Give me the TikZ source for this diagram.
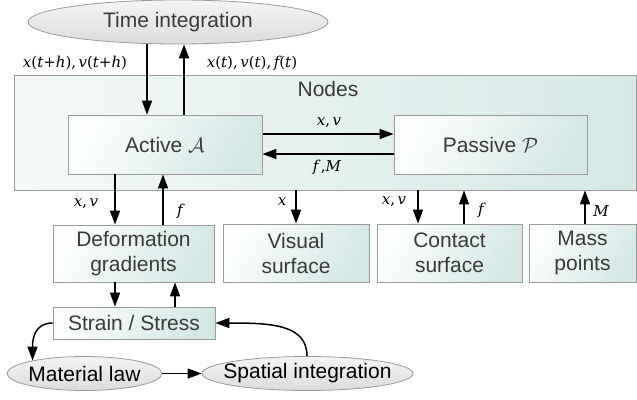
\documentclass[tikz,border=0pt]{standalone}
\usepackage{fontspec}
\setmainfont{Liberation Sans}
\newfontfamily\lblfont{DejaVu Serif}
\usetikzlibrary{shapes.geometric,arrows.meta}
\definecolor{txt}{HTML}{3A3A3A}
\definecolor{boxA}{HTML}{FCFEFE}
\definecolor{boxB}{HTML}{D3E8E5}
\definecolor{bigA}{HTML}{F4F9F8}
\definecolor{bigB}{HTML}{D4E9E6}
\definecolor{ellA}{HTML}{F4F4F4}
\definecolor{ellB}{HTML}{DCDCDC}
\definecolor{edge}{HTML}{9A9A9A}
\newcommand\mi[1]{{\itshape #1}}
\begin{document}
\begin{tikzpicture}[x=1pt,y=-1pt,
  every node/.style={text=txt, font=\fontsize{21}{25}\selectfont, inner sep=0pt, align=center},
  box/.style={draw=edge, line width=0.8pt, shade, top color=boxA, bottom color=boxB, shading angle=60},
  bigbox/.style={draw=edge, line width=0.8pt, shade, left color=bigA, right color=bigB},
  ell/.style={ellipse, draw=edge, line width=0.8pt, shade, top color=ellA, bottom color=ellB},
  lbl/.style={font=\lblfont\fontsize{15}{18}\selectfont, text=black},
  arr/.style={line width=1.5pt, -{Triangle[length=14pt,width=10pt]}}
]
\useasboundingbox (0,0) rectangle (637,399);

% ellipses
\node[ell, minimum width=300, minimum height=44] (time) at (178,22) {Time integration};

% big nodes box
\node[bigbox, minimum width=622, minimum height=115] (nodes) at (325,132.5) {};
\node (nodestitle) at (328,89) {Nodes};

\node[box, minimum width=194, minimum height=59] (active) at (165,144.5) {Active $\mathcal{A}$};
\node[box, minimum width=193, minimum height=59] (passive) at (490.5,144.5) {Passive $\mathcal{P}$};

\node[box, minimum width=161, minimum height=57] (deform) at (133.5,253.5) {Deformation\\gradients};
\node[box, minimum width=146, minimum height=58] (visual) at (296,253) {Visual\\surface};
\node[box, minimum width=145, minimum height=58] (contact) at (449.5,253) {Contact\\surface};
\node[box, minimum width=107, minimum height=58] (mass) at (582.5,253) {Mass\\points};
\node[box, minimum width=162, minimum height=32] (strain) at (134,323) {Strain / Stress};

\node[ell, minimum width=155, minimum height=34, label={[text=black]center:Material law}] (material) at (84.5,373.5) {};
\node[ell, minimum width=211, minimum height=34, label={[text=black]center:Spatial integration}] (spatial) at (307.5,373.5) {};

% top arrows
\draw[arr] ([xshift=-31]time.south) -- ([xshift=-18]active.north);
\draw[arr] ([xshift=19]active.north) -- ([xshift=6]time.south);
\node[lbl] (l1) at (75,63) {\mi{x}(\mi{t}+\mi{h}),\,\mi{v}(\mi{t}+\mi{h})};
\node[lbl] (l2) at (252,63) {\mi{x}(\mi{t}),\,\mi{v}(\mi{t}),\,\mi{f}(\mi{t})};

% active <-> passive
\draw[arr] ([xshift=1,yshift=10.5]active.east) -- ([yshift=10.5]passive.west);
\draw[arr] ([yshift=-9.5]passive.west) -- ([yshift=-9.5]active.east);
\node[lbl] (l3) at (329,123) {\mi{x},\,\mi{v}};
\node[lbl] (l4) at (327,167) {\mi{f}\,,\mi{M}};

% down/up arrows
\draw[arr] ([xshift=-50]active.south) -- ([xshift=-18.5]deform.north);
\draw[arr] ([xshift=29.5]deform.north) -- ([xshift=-2]active.south);
\node[lbl] (l5) at (86,204) {\mi{x},\,\mi{v}};
\node[lbl] (l6) at (180,211) {\mi{f}};

\draw[arr] (nodes.south -| visual.north) -- (visual.north);
\node[lbl] (l7) at (282,202) {\mi{x}};

\draw[arr] ([xshift=93]nodes.south) -- ([xshift=-31.5]contact.north);
\draw[arr] ([xshift=14.5]contact.north) -- ([xshift=139]nodes.south);
\node[lbl] (l8) at (394,202) {\mi{x},\,\mi{v}};
\node[lbl] (l9) at (481,210) {\mi{f}};

\draw[arr] ([xshift=2.5]mass.north) -- ([xshift=260]nodes.south);
\node[lbl] (l10) at (601,211) {\mi{M}};

% deform <-> strain
\draw[arr] ([xshift=-18.5]deform.south) -- ([xshift=-19]strain.north);
\draw[arr] ([xshift=41]strain.north) -- ([xshift=41.5]deform.south);

% loops
\draw[arr] (strain.west) .. controls +(-18,0) and +(0,-22) .. (material.166);
\draw[arr] (material.east) -- (spatial.west);
\draw[arr] ([xshift=-0.5]spatial.north) .. controls +(0,-32) and +(55,0) .. (strain.east);
\end{tikzpicture}
\end{document}
